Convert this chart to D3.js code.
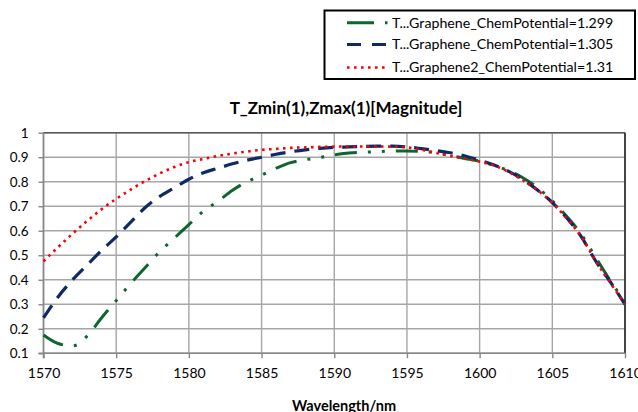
<!DOCTYPE html>
<html>
<head>
<meta charset="utf-8">
<script src="https://cdn.jsdelivr.net/npm/d3@7/dist/d3.min.js"></script>
<style>
body { margin: 0; background: #fff; }
text { font-family: Lato, "Open Sans", sans-serif; fill: #000; }
</style>
</head>
<body>
<script>
var wavelengths = d3.range(1570, 1611);

var green1299 = [0.175, 0.14, 0.13, 0.17, 0.245, 0.315, 0.385, 0.45, 0.515, 0.57,
  0.625, 0.68, 0.72, 0.765, 0.8, 0.827, 0.855, 0.878, 0.89, 0.898,
  0.91, 0.917, 0.92, 0.923, 0.925, 0.925, 0.923, 0.918, 0.908, 0.895,
  0.884, 0.866, 0.845, 0.815, 0.775, 0.722, 0.658, 0.585, 0.49, 0.395, 0.312];

var blue1305 = [0.245, 0.33, 0.4, 0.46, 0.52, 0.575, 0.635, 0.695, 0.74, 0.775,
  0.81, 0.837, 0.855, 0.873, 0.888, 0.9, 0.912, 0.922, 0.93, 0.936,
  0.94, 0.942, 0.944, 0.945, 0.945, 0.942, 0.935, 0.927, 0.918, 0.905,
  0.888, 0.868, 0.842, 0.808, 0.765, 0.715, 0.652, 0.575, 0.475, 0.39, 0.3];

var red131 = [0.475, 0.533, 0.588, 0.64, 0.688, 0.73, 0.768, 0.803, 0.834, 0.86,
  0.88, 0.893, 0.905, 0.915, 0.923, 0.93, 0.934, 0.938, 0.94, 0.942,
  0.943, 0.944, 0.944, 0.944, 0.943, 0.94, 0.93, 0.918, 0.905, 0.894,
  0.882, 0.866, 0.84, 0.805, 0.765, 0.713, 0.65, 0.575, 0.475, 0.387, 0.3];

var seriesNames = ["T...Graphene_ChemPotential=1.299", "T...Graphene_ChemPotential=1.305", "T...Graphene2_ChemPotential=1.31"];
var xTicks = [1570, 1575, 1580, 1585, 1590, 1595, 1600, 1605, 1610];
var yTicks = [0.1, 0.2, 0.3, 0.4, 0.5, 0.6, 0.7, 0.8, 0.9, 1];

function draw() {
  var series = [
    {name: seriesNames[0], values: green1299, color: "#0b6630", dash: "22,11,3,11,3,11", width: 3},
    {name: seriesNames[1], values: blue1305, color: "#0e2a66", dash: "15,9", width: 3.2},
    {name: seriesNames[2], values: red131, color: "#ff0000", dash: "2.6,4.4", width: 2.6}
  ];

  var w = 638, h = 412;
  var pl = 43.5, pr = 625, pt = 132.7, pb = 353.3;

  var svg = d3.select("body").append("svg").attr("width", w).attr("height", h);

  var x = d3.scaleLinear().domain([1570, 1610]).range([pl, pr]);
  var y = d3.scaleLinear().domain([0.1, 1]).range([pb, pt]);

  // grid
  svg.append("g").selectAll("line").data(xTicks).enter().append("line")
    .attr("x1", function(d) { return x(d); }).attr("x2", function(d) { return x(d); })
    .attr("y1", pt).attr("y2", pb)
    .attr("stroke", "#a6a6a6").attr("stroke-width", 1.4);
  svg.append("g").selectAll("line").data(yTicks).enter().append("line")
    .attr("x1", pl).attr("x2", pr)
    .attr("y1", function(d) { return y(d); }).attr("y2", function(d) { return y(d); })
    .attr("stroke", "#a6a6a6").attr("stroke-width", 1.4);

  // axes
  var yAxis = d3.axisLeft(y).tickValues(yTicks).tickSize(5).tickPadding(3)
    .tickFormat(function(d) { return d === 1 ? "1" : d3.format(".1f")(d); });
  var gy = svg.append("g").attr("transform", "translate(" + pl + ",0)").call(yAxis);
  gy.select(".domain").remove();
  gy.selectAll(".tick line").attr("stroke", "#868686").attr("stroke-width", 1.4);
  gy.selectAll(".tick text").style("font-size", "13.5px").style("font-family", "Lato, sans-serif").attr("x", -15);

  var xAxis = d3.axisBottom(x).tickValues(xTicks).tickSize(5).tickPadding(10).tickFormat(d3.format("d"));
  var gx = svg.append("g").attr("transform", "translate(0," + pb + ")").call(xAxis);
  gx.select(".domain").remove();
  gx.selectAll(".tick line").attr("stroke", "#868686").attr("stroke-width", 1.4);
  gx.selectAll(".tick text").style("font-size", "14px").style("font-family", "Lato, sans-serif");

  // plot frame
  svg.append("line").attr("x1", pl).attr("x2", pr).attr("y1", pt).attr("y2", pt)
    .attr("stroke", "#595959").attr("stroke-width", 1.4);
  svg.append("line").attr("x1", pr).attr("x2", pr).attr("y1", pt).attr("y2", pb)
    .attr("stroke", "#262626").attr("stroke-width", 1.6);
  svg.append("line").attr("x1", pl).attr("x2", pl).attr("y1", pt).attr("y2", pb + 5)
    .attr("stroke", "#868686").attr("stroke-width", 1.6);
  svg.append("line").attr("x1", pl - 5).attr("x2", pr).attr("y1", pb).attr("y2", pb)
    .attr("stroke", "#868686").attr("stroke-width", 1.6);

  // lines
  var line = d3.line()
    .x(function(d, i) { return x(wavelengths[i]); })
    .y(function(d) { return y(d); })
    .curve(d3.curveMonotoneX);

  svg.append("defs").append("clipPath").attr("id", "clip")
    .append("rect").attr("x", pl - 2).attr("y", pt - 4).attr("width", pr - pl + 4).attr("height", pb - pt + 4);

  svg.append("g").attr("clip-path", "url(#clip)").selectAll("path").data(series).enter().append("path")
    .attr("d", function(d) { return line(d.values); })
    .attr("fill", "none")
    .attr("stroke", function(d) { return d.color; })
    .attr("stroke-width", function(d) { return d.width; })
    .attr("stroke-dasharray", function(d) { return d.dash; });

  // titles
  svg.append("text").attr("x", 346).attr("y", 114).attr("text-anchor", "middle")
    .style("font-size", "17px").style("font-weight", "bold")
    .text("T_Zmin(1),Zmax(1)[Magnitude]");
  svg.append("text").attr("x", 344).attr("y", 411).attr("text-anchor", "middle")
    .style("font-size", "14.5px").style("font-weight", "bold")
    .text("Wavelength/nm");

  // legend
  var legend = svg.append("g");
  legend.append("rect").attr("x", 324.5).attr("y", 10.5).attr("width", 310.5).attr("height", 68.5)
    .attr("fill", "#fff").attr("stroke", "#000").attr("stroke-width", 2);
  var legendY = [22.7, 44.5, 67.5];
  var items = legend.selectAll("g.item").data(series).enter().append("g")
    .attr("transform", function(d, i) { return "translate(0," + legendY[i] + ")"; });
  items.append("line").attr("x1", 347).attr("x2", 388).attr("y1", 0).attr("y2", 0)
    .attr("stroke", function(d) { return d.color; })
    .attr("stroke-width", function(d) { return d.width; })
    .attr("stroke-dasharray", function(d, i) { return i === 0 ? "27,11,2.5,20" : (i === 1 ? "14,11" : d.dash); });
  items.append("text").attr("x", 392).attr("y", 0).attr("dy", "0.35em")
    .style("font-size", "14.2px")
    .text(function(d) { return d.name; });
}

draw();
</script>
</body>
</html>
